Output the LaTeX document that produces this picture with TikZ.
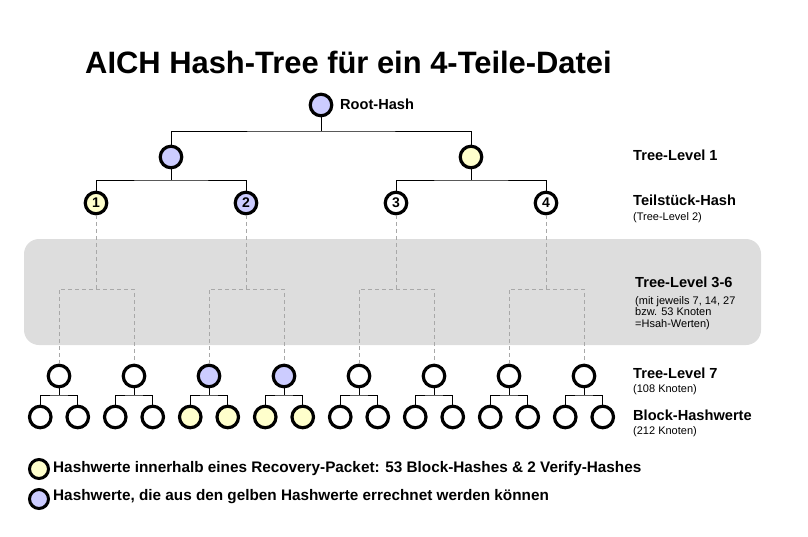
\documentclass[tikz,border=0pt]{standalone}
\usepackage{fontspec}
\setmainfont{Liberation Sans}
\usetikzlibrary{positioning}

\definecolor{hashblue}{HTML}{CCCCFF}
\definecolor{hashyellow}{HTML}{FFFFCC}
\definecolor{levelgray}{HTML}{DDDDDD}
\definecolor{dashgray}{HTML}{A8A8A8}

\tikzset{
  hash/.style={circle, draw, fill=white, line width=3.2pt, minimum size=21.5pt, inner sep=0pt,
    font=\bfseries\fontsize{14}{14}\selectfont},
  computed/.style={fill=hashblue},
  inpacket/.style={fill=hashyellow},
  plain/.style={fill=white},
  link/.style={line width=1pt},
  hidden link/.style={dashgray, line width=1pt, dash pattern=on 4pt off 3pt},
  lvl/.style={anchor=base west, inner sep=0pt, font=\bfseries\fontsize{14.6}{14.6}\selectfont},
  note/.style={anchor=base west, inner sep=0pt, font=\fontsize{11}{11}\selectfont},
  legend/.style={anchor=base west, inner sep=0pt, font=\bfseries\fontsize{15.3}{15.3}\selectfont}
}

\begin{document}
\begin{tikzpicture}[x=1pt, y=-1pt, node distance=75pt, on grid]
   \useasboundingbox (0,0) rectangle (808,536);
   \fill[levelgray, rounded corners=15pt] (24,239) rectangle (761,345);

   \node[anchor=base west, inner sep=0pt, font=\bfseries\fontsize{30.9}{30.9}\selectfont] (title) at (85,73)
      {AICH Hash-Tree für ein 4-Teile-Datei};

   \node[hash,computed] (root) at (321,105) {};
   \node[hash,computed] (t1_1) [below left=52pt and 150pt of root] {};
   \node[hash,inpacket] (t1_2) [right=300pt of t1_1] {};
   \node[hash,inpacket] (t2_1) [below left=46pt and 75pt of t1_1] {1};
   \node[hash,computed] (t2_2) [right=150pt of t2_1] {2};
   \node[hash] (t2_3) [right=150pt of t2_2] {3};
   \node[hash] (t2_4) [right=150pt of t2_3] {4};

   \coordinate (r_bar) at (321,131);
   \coordinate (s_1) at (171,180);
   \coordinate (s_2) at (471,180);
   \coordinate (d_1) at (96,289);
   \coordinate (d_2) at (246,289);
   \coordinate (d_3) at (396,289);
   \coordinate (d_4) at (546,289);

   % unterste zwei Ebenen
   \foreach \i/\col/\leafcol in {1/plain/plain, 2/plain/plain, 3/computed/inpacket, 4/computed/inpacket,
                                5/plain/plain, 6/plain/plain, 7/plain/plain, 8/plain/plain} {
      \node[hash,\col] (t7_\i) at ({75*\i-16},376) {};
      \node[hash,\leafcol] (b_\i_1) [below left=41pt and 18.75pt of t7_\i] {};
      \node[hash,\leafcol] (b_\i_2) [below right=41pt and 18.75pt of t7_\i] {};
      \coordinate[below=19pt of t7_\i] (c_\i);
      \draw[link] (t7_\i) -- (c_\i);
      \draw[link] (b_\i_1) |- (c_\i) -| (b_\i_2);
   }

   \draw[link] (root) -- (r_bar);
   \draw[link] (t1_1) |- (r_bar) -| (t1_2);
   \draw[link] (t1_1) -- (s_1);
   \draw[link] (t2_1) |- (s_1) -| (t2_2);
   \draw[link] (t1_2) -- (s_2);
   \draw[link] (t2_3) |- (s_2) -| (t2_4);

   \draw[hidden link] (t2_1) -- (d_1);
   \draw[hidden link] (t7_1) |- (d_1) -| (t7_2);
   \draw[hidden link] (t2_2) -- (d_2);
   \draw[hidden link] (t7_3) |- (d_2) -| (t7_4);
   \draw[hidden link] (t2_3) -- (d_3);
   \draw[hidden link] (t7_5) |- (d_3) -| (t7_6);
   \draw[hidden link] (t2_4) -- (d_4);
   \draw[hidden link] (t7_7) |- (d_4) -| (t7_8);

   \node[lvl] (root_l) at (340,109) {Root-Hash};
   \node[lvl] (lvl_1) at (633,160) {Tree-Level 1};
   \node[lvl] (lvl_2) at (633,205) {Teilstück-Hash};
   \node[note] (lvl_2_n) at (633,220) {(Tree-Level 2)};
   \node[lvl] (lvl_36) at (635,287) {Tree-Level 3-6};
   \node[note] (lvl_36_n1) at (635,304) {(mit jeweils 7, 14, 27};
   \node[note] (lvl_36_n2) at (635,315.5) {bzw. 53 Knoten};
   \node[note] (lvl_36_n3) at (635,327) {=Hsah-Werten)};
   \node[lvl] (lvl_7) at (633,378) {Tree-Level 7};
   \node[note] (lvl_7_n) at (633,392) {(108 Knoten)};
   \node[lvl] (lvl_b) at (633,420) {Block-Hashwerte};
   \node[note] (lvl_b_n) at (633,434) {(212 Knoten)};

   \node[hash,inpacket,minimum size=19pt,line width=3pt] (key_1) at (39,469) {};
   \node[legend] (key_1_l) at (53,472) {Hashwerte innerhalb eines Recovery-Packet: 53 Block-Hashes \& 2 Verify-Hashes};
   \node[hash,computed,minimum size=19pt,line width=3pt] (key_2) at (39,499) {};
   \node[legend] (key_2_l) at (53,500) {Hashwerte, die aus den gelben Hashwerte errechnet werden können};
\end{tikzpicture}
\end{document}
